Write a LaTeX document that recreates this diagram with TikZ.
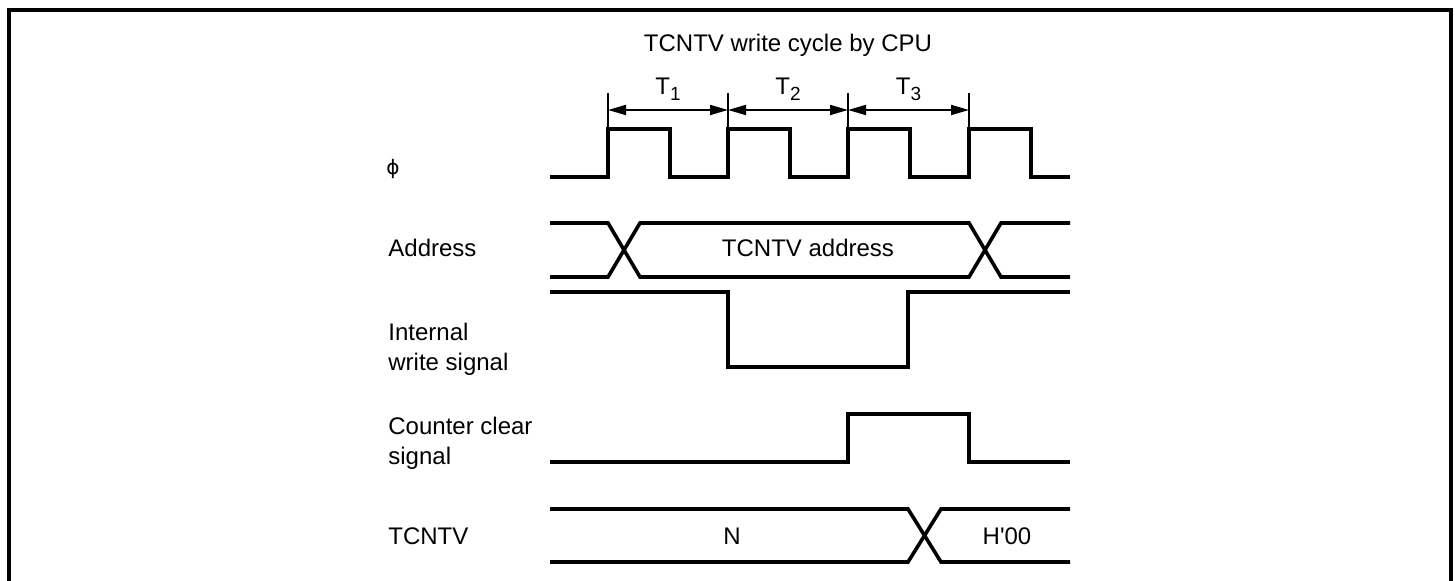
\documentclass[tikz,border=0pt]{standalone}
\usepackage{fontspec}
\setmainfont{Liberation Sans}
\newfontfamily\phifont{DejaVu Sans}
\usetikzlibrary{arrows.meta,calc}

\begin{document}
\begin{tikzpicture}[x=0.5pt, y=-0.5pt,
    wave/.style={line width=1.8pt, line join=miter},
    tick/.style={line width=0.7pt},
    dimline/.style={line width=0.9pt, {Triangle[length=9pt,width=5pt]}-{Triangle[length=9pt,width=5pt]}},
    lbl/.style={anchor=base west, align=left, inner sep=0pt, font=\fontsize{12}{15}\selectfont},
    txt/.style={anchor=base, inner sep=0pt, font=\fontsize{12}{15}\selectfont}]
  \useasboundingbox (0,0) rectangle (1455,581);
  % open frame
  \draw[line width=2pt] (9,581) -- (9,10) -- (1451,10) -- (1451,581);

  \node[txt] (title) at (788,52) {TCNTV write cycle by CPU};

  % cycle marks
  \foreach \x [count=\k from 0] in {608,728,848,969} {
    \draw[tick] (\x,93) -- (\x,127);
    \coordinate (t\k) at (\x,110);
  }
  \foreach \a/\b/\n in {0/1/1,1/2/2,2/3/3} {
    \draw[dimline] (t\a) -- (t\b);
    \node[txt] (lt\n) at ($(t\a)!0.5!(t\b)+(0,-15)$) {T\raisebox{-0.45ex}{\fontsize{9.5}{10}\selectfont\n}};
  }

  % signal names (base = last line)
  \node[lbl, font=\phifont\fontsize{10}{12}\selectfont] (phi) at (386,175) {ϕ};
  \node[lbl] (addr) at (388,257) {Address};
  \node[lbl] (iws) at (388,371) {Internal\\write signal};
  \node[lbl] (ccs) at (388,465) {Counter clear\\signal};
  \node[lbl] (cnt) at (388,545) {TCNTV};

  % clock
  \draw[wave] (550,177) foreach \r in {608,728,848,969} {
      -- (\r,177) -- (\r,129) -- (\r+62,129) -- (\r+62,177) } -- (1070,177);

  % address bus
  \draw[wave] (550,223) -- (608,223) -- (640,277) -- (969,277) -- (1001,223) -- (1070,223);
  \draw[wave] (550,277) -- (608,277) -- (640,223) -- (969,223) -- (1001,277) -- (1070,277);
  \node[txt] (abus) at (808,257) {TCNTV address};

  % internal write
  \draw[wave] (550,292) -- (728,292) -- (728,367) -- (908,367) -- (908,292) -- (1070,292);

  % counter clear
  \draw[wave] (550,462) -- (848,462) -- (848,414) -- (969,414) -- (969,462) -- (1070,462);

  % TCNTV value
  \draw[wave] (550,509) -- (908,509) -- (941,562) -- (1070,562);
  \draw[wave] (550,562) -- (908,562) -- (941,509) -- (1070,509);
  \node[txt] (vn) at (732,545) {N};
  \node[txt] (vh) at (1007,545) {H\textquotesingle 00};
\end{tikzpicture}
\end{document}
